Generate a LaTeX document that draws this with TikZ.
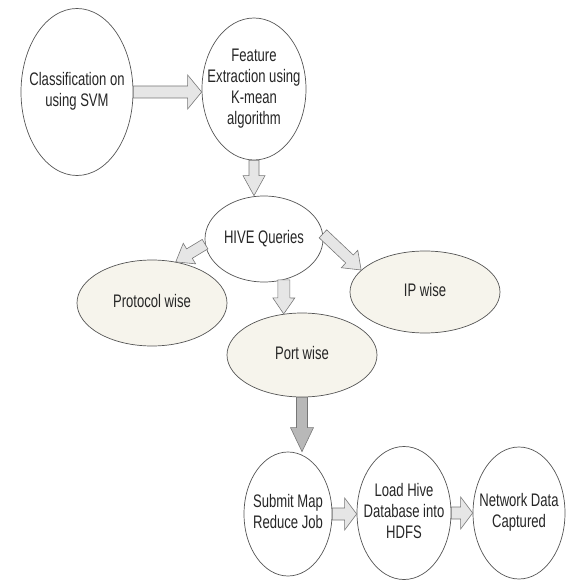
\documentclass[tikz,border=0pt]{standalone}
\usepackage{fontspec}
\setmainfont{Liberation Sans}[FakeStretch=0.72]
\usetikzlibrary{calc, shapes.geometric}
\definecolor{hvline}{HTML}{555555}
\definecolor{hvtext}{HTML}{262626}
\definecolor{hvbeige}{HTML}{F6F4EC}
\definecolor{hvarrow}{HTML}{E6E6E6}
\definecolor{hvdark}{HTML}{B8B8B8}
\newcommand\pxu{0.3mm}
\newcommand\eltext[1]{\makebox[0pt]{\begin{tabular}{@{}c@{}}#1\end{tabular}}}
\tikzset{
  fat/.style args={#1/#2/#3}{draw=hvline!80, fill=hvarrow, line width=.5pt, to path={
      let \p1=(\tikztostart), \p2=(\tikztotarget),
          \n1={atan2(\y2-\y1,\x2-\x1)}, \n2={veclen(\x2-\x1,\y2-\y1)} in
      [rotate around={\n1:(\p1)}]
      (\x1,\y1+#1*\pxu) -- (\x1+\n2-#3*\pxu,\y1+#1*\pxu) -- (\x1+\n2-#3*\pxu,\y1+#2*\pxu)
      -- (\x1+\n2,\y1) -- (\x1+\n2-#3*\pxu,\y1-#2*\pxu) -- (\x1+\n2-#3*\pxu,\y1-#1*\pxu)
      -- (\x1,\y1-#1*\pxu) -- cycle}}
}

\begin{document}
\begin{tikzpicture}[x=\pxu, y=-\pxu, font=\fontsize{15.5}{18}\selectfont, text=hvtext,
      blob/.style={ellipse, draw=hvline, line width=.6pt, fill=white, inner sep=0pt},
      qry/.style={blob, fill=hvbeige}]
  \useasboundingbox (0,0) rectangle (566,580);

  \node[blob, minimum width=112*\pxu, minimum height=167*\pxu] (cls) at (77,92) {\eltext{Classification on\\using SVM}};
  \node[blob, minimum width=104*\pxu, minimum height=142*\pxu] (feat) at (254,89) {\eltext{Feature\\Extraction using\\K-mean\\algorithm}};
  \node[blob, minimum width=118*\pxu, minimum height=86*\pxu] (hive) at (264,239) {\eltext{HIVE Queries}};
  \node[qry, minimum width=150*\pxu, minimum height=86*\pxu] (proto) at (152,303) {\eltext{Protocol wise}};
  \node[qry, minimum width=150*\pxu, minimum height=82*\pxu] (ip) at (425,292) {\eltext{IP wise}};
  \node[qry, minimum width=150*\pxu, minimum height=84*\pxu] (port) at (302,355) {\eltext{Port wise}};
  \node[blob, minimum width=88*\pxu, minimum height=124*\pxu] (sub) at (288,514) {\eltext{Submit Map\\Reduce Job}};
  \node[blob, minimum width=94*\pxu, minimum height=133*\pxu] (load) at (404,513) {\eltext{Load Hive\\Database into\\HDFS}};
  \node[blob, minimum width=92*\pxu, minimum height=132*\pxu] (net) at (519,513) {\eltext{Network Data\\Captured}};

  \draw[fat=6/17/14] (cls.east) to (cls.east -| feat.west);
  \draw[fat=5/11/20] (feat.south) to (feat.south |- hive.north);
  \draw[fat=5.5/12/16] (hive.185) to (proto.60);
  \draw[fat=5.5/12/16] (hive.5) to (ip.161);
  \draw[fat=6/11/16] (hive.296) to (port.114);
  \draw[fat=5.5/11.5/24, fill=hvdark] (port.south) to (port.south |- sub.north);
  \draw[fat=6/16/12] (sub.east) to (sub.east -| load.west);
  \draw[fat=6/16/12] (load.east) to (load.east -| net.west);
\end{tikzpicture}
\end{document}
